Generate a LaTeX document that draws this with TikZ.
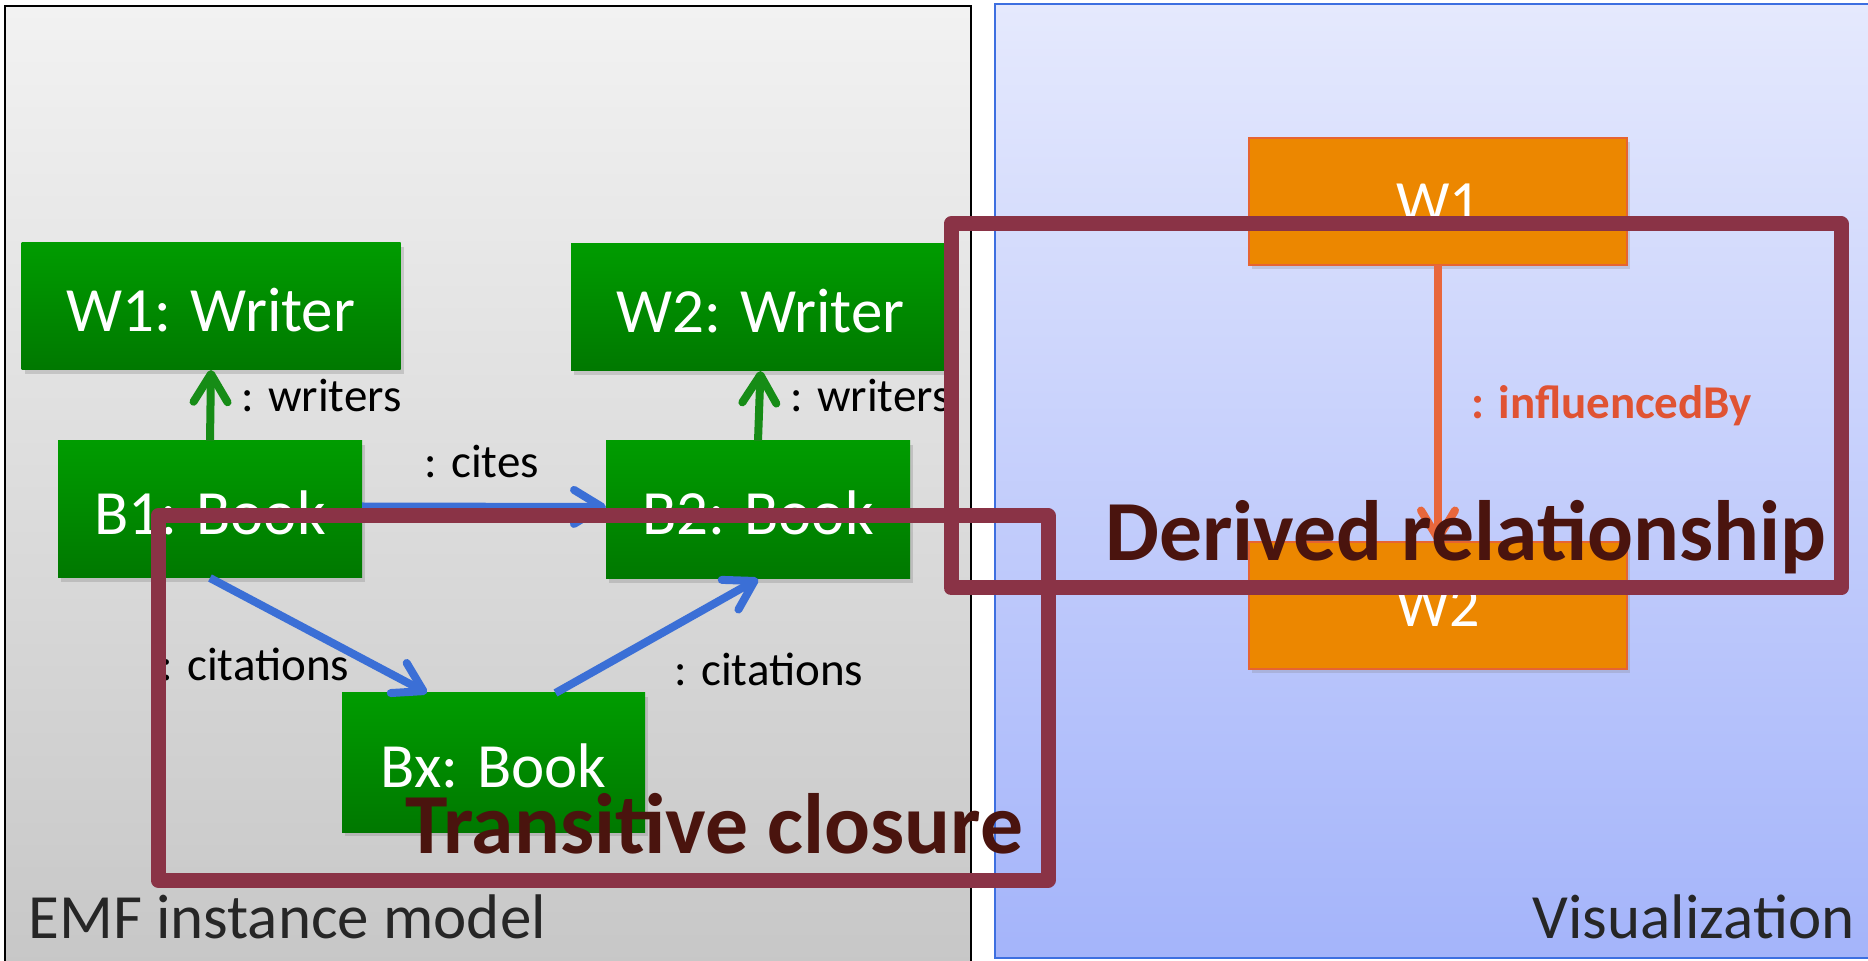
\documentclass[tikz,border=0pt]{standalone}
\usepackage{fontspec}
\setmainfont{Carlito}
\usetikzlibrary{arrows.meta,shadows}

\definecolor{panelTop}{RGB}{242,242,242}
\definecolor{panelBot}{RGB}{198,198,198}
\definecolor{visTop}{RGB}{229,233,253}
\definecolor{visBot}{RGB}{164,180,250}
\definecolor{visEdge}{RGB}{61,111,224}
\definecolor{boxTop}{RGB}{0,156,0}
\definecolor{boxBot}{RGB}{0,120,0}
\definecolor{refGreen}{RGB}{22,140,22}
\definecolor{refBlue}{RGB}{59,111,214}
\definecolor{vizFill}{RGB}{236,135,0}
\definecolor{vizEdge}{RGB}{230,100,50}
\definecolor{derivedArrow}{RGB}{232,103,60}
\definecolor{derivedLabel}{RGB}{224,83,51}
\definecolor{frameRed}{RGB}{138,51,70}
\definecolor{noteText}{RGB}{74,20,14}
\definecolor{captionText}{RGB}{38,38,38}

\tikzset{
  objbox/.style={draw=none, top color=boxTop, bottom color=boxBot,
    text=white, font=\fontsize{31.5pt}{36pt}\selectfont,
    inner sep=0pt, outer sep=0pt, text height=24.6pt, text depth=0pt,
    drop shadow={shadow xshift=1.5pt, shadow yshift=-2pt, opacity=0.3}},
  vizbox/.style={draw=vizEdge, line width=1pt, fill=vizFill,
    text=white, font=\fontsize{30pt}{34pt}\selectfont,
    inner sep=0pt, outer sep=0pt, text height=21pt, text depth=0pt,
    minimum width=189pt, minimum height=63.5pt,
    drop shadow={shadow xshift=1.5pt, shadow yshift=-2pt, opacity=0.25}},
  reflabel/.style={anchor=base west, inner sep=0pt, text=black,
    font=\fontsize{23.5pt}{28pt}\selectfont},
  refarrow/.style={line width=4pt,
    -{Straight Barb[length=14pt,width=17pt,round]}},
  owns/.style={refarrow, draw=refGreen},
  cites/.style={refarrow, draw=refBlue},
  derived/.style={refarrow, draw=derivedArrow},
  highlight/.style={draw=frameRed, line width=7.5pt, line join=round},
  note/.style={anchor=base west, inner sep=0pt, text=noteText,
    font=\bfseries\fontsize{42.8pt}{48pt}\selectfont},
  caption/.style={inner sep=0pt, text=captionText,
    font=\fontsize{31.5pt}{36pt}\selectfont}
}

\begin{document}
\begin{tikzpicture}[x=0.5pt,y=-0.5pt]
\useasboundingbox (0,0) rectangle (1868,961);
\clip (0,0) rectangle (1868,961);

% panels
\shade[top color=panelTop, bottom color=panelBot] (5,6) rectangle (971,990);
\draw[black, line width=1.2pt] (5,990) -- (5,6) -- (971,6) -- (971,990);
\shade[top color=visTop, bottom color=visBot] (995,4) rectangle (1890,958);
\draw[visEdge, line width=1.2pt] (1890,4) -- (995,4) -- (995,958) -- (1890,958);

% instance model objects
\node[objbox, minimum width=189.5pt, minimum height=63.5pt] (W1) at (211,306.5) {W1: Writer};
\node[objbox, minimum width=189.5pt, minimum height=63.5pt] (W2) at (760.5,307.5) {W2: Writer};
\node[objbox, minimum width=152pt, minimum height=68.5pt] (B1) at (210,509.5) {B1: Book};
\node[objbox, minimum width=152pt, minimum height=69pt] (B2) at (758,510) {B2: Book};
\node[objbox, minimum width=151.5pt, minimum height=69.5pt] (Bx) at (493.5,762.5) {Bx: Book};

% references
\draw[owns] (B1.north) -- (W1.south);
\draw[owns] (B2.north) -- (W2.south);
\draw[cites] ([yshift=1.5pt]B1.east) -- ([yshift=1.5pt]B2.west);
\draw[cites] (B1.south) -- ([xshift=42.5pt]Bx.north west);
\draw[cites] ([xshift=31pt]Bx.north) -- (B2.south);

\node[reflabel] (lw1) at (241,412) {: writers};
\node[reflabel] (lw2) at (790,412) {: writers};
\node[reflabel] (lcites) at (424,478) {: cites};
\node[reflabel] (lcit1) at (160,681) {: citations};
\node[reflabel] (lcit2) at (674,686) {: citations};

% visualization
\node[vizbox] (V1) at (1438,201.5) {W1};
\node[vizbox] (V2) at (1438,606) {W2};
\draw[derived] (V1.south) -- (V2.north);
\node[reflabel, text=derivedLabel, font=\bfseries\fontsize{23.5pt}{28pt}\selectfont] (linf) at (1471,419) {: influencedBy};

% highlight frames
\draw[highlight] (951,224) rectangle (1841,588);
\draw[highlight] (158,516) rectangle (1048,880);

\node[note] (derivedNote) at (1105,561) {Derived relationship};
\node[note] (closureNote) at (405,853) {Transitive closure};

% panel captions
\node[caption, anchor=base west] (emf) at (28,938) {EMF instance model};
\node[caption, anchor=base east] (vis) at (1855,938) {Visualization};
\end{tikzpicture}
\end{document}
